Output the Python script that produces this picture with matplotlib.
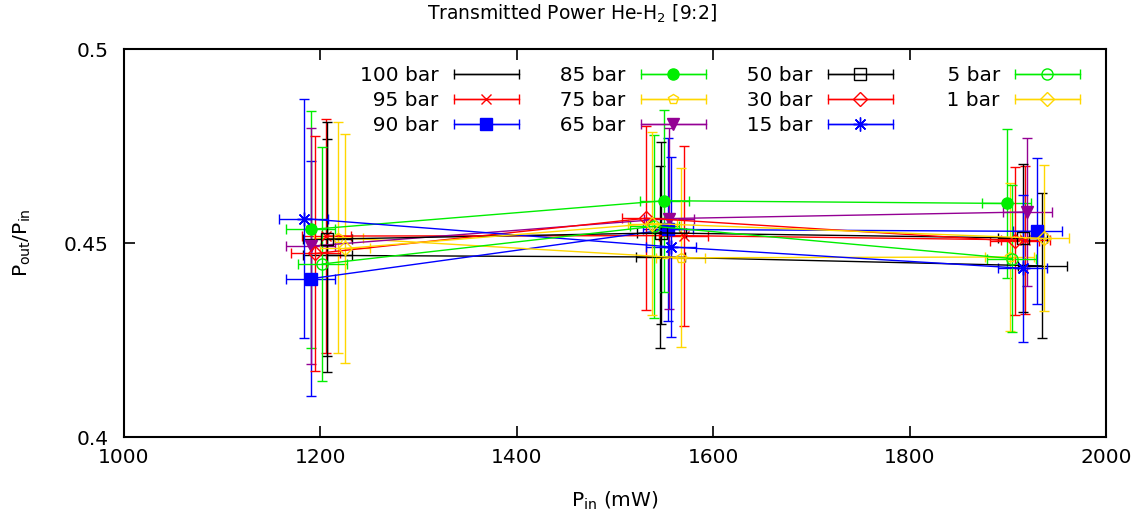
import numpy as np
import matplotlib
matplotlib.use('Agg')
import matplotlib.pyplot as plt
from matplotlib.legend_handler import HandlerErrorbar

FONT_SIZE = 14.5

# pressures, one series each
labels = ['100 bar', '95 bar', '90 bar', '85 bar', '75 bar', '65 bar',
          '50 bar', '30 bar', '15 bar', '5 bar', '1 bar']
colors = ['black', '#ff0000', '#0000ff', '#00ee00', '#ffd700', '#940094',
          'black', '#ff0000', '#0000ff', '#00ee00', '#ffd700']
markers = ['', 'x', 's', 'o', 'p', 'v', 's', 'D', (8, 2, 0), 'o', 'D']
filled = [True, True, True, True, False, True, False, False, True, False, False]

# input power (mW), three settings per pressure
p_in = [
    [1207, 1546, 1935],
    [1206, 1570, 1918],
    [1190, 1554, 1930],
    [1190, 1550, 1899],
    [1218, 1567, 1902],
    [1190, 1555, 1920],
    [1207, 1547, 1915],
    [1195, 1532, 1907],
    [1183, 1557, 1915],
    [1202, 1540, 1904],
    [1225, 1538, 1937],
]
pin_err = 25

# transmitted ratio P_out/P_in
ratio = [
    [0.4468, 0.4464, 0.4441],
    [0.4518, 0.4519, 0.4508],
    [0.4408, 0.4535, 0.4530],
    [0.4535, 0.4609, 0.4602],
    [0.4514, 0.4462, 0.4464],
    [0.4492, 0.4563, 0.4580],
    [0.4510, 0.4526, 0.4513],
    [0.4473, 0.4564, 0.4505],
    [0.4563, 0.4490, 0.4435],
    [0.4446, 0.4543, 0.4460],
    [0.4486, 0.4550, 0.4512],
]
ratio_err = [
    [0.0300, 0.0235, 0.0187],
    [0.0302, 0.0232, 0.0190],
    [0.0303, 0.0235, 0.0188],
    [0.0305, 0.0235, 0.0192],
    [0.0298, 0.0231, 0.0191],
    [0.0305, 0.0234, 0.0190],
    [0.0301, 0.0235, 0.0190],
    [0.0303, 0.0237, 0.0190],
    [0.0308, 0.0232, 0.0189],
    [0.0302, 0.0236, 0.0190],
    [0.0296, 0.0235, 0.0188],
]

plt.rcParams['font.family'] = ['DejaVu Sans']
fig = plt.figure(figsize=(11.43, 5.21), dpi=100)
ax = fig.add_axes([0.1085, 0.1612, 0.8591, 0.7447])

handles = []
for i, lab in enumerate(labels):
    c = colors[i]
    fc = c if filled[i] else 'none'
    ms = 8 if markers[i] in ('s', 'o', 'v') else 7
    if markers[i] == (8, 2, 0):
        ms = 10
    ax.errorbar(p_in[i], ratio[i], xerr=pin_err, yerr=ratio_err[i],
                color=c, ecolor=c, lw=1, elinewidth=1, capsize=3.5, capthick=1,
                marker=markers[i], ms=ms, mfc=fc, mec=c, mew=1)
    # legend proxy, horizontal bar only (like the gnuplot key)
    # figure spaces keep every key column the same width
    pad = '\u2007' * (7 - len(lab))
    h = ax.errorbar([np.nan], [np.nan], xerr=[1], color=c, ecolor=c, lw=1,
                    elinewidth=1, capsize=3.5, capthick=1, marker=markers[i],
                    ms=ms, mfc=fc, mec=c, mew=1, label=pad + lab)
    handles.append(h)

ax.set_xlim(1000, 2000)
ax.set_ylim(0.4, 0.5)
ax.set_xticks([1000, 1200, 1400, 1600, 1800, 2000])
ax.set_yticks([0.4, 0.45, 0.5])
ax.set_yticklabels(['0.4', '0.45', '0.5'])
ax.tick_params(direction='in', length=8, width=1.2, top=True, right=True,
               labelsize=FONT_SIZE)
ax.tick_params(axis='y', pad=11)
ax.tick_params(axis='x', pad=8)
for s in ax.spines.values():
    s.set_linewidth(1.5)

ax.set_xlabel(r'P$_{\mathrm{in}}$ (mW)', fontsize=FONT_SIZE, labelpad=16)
ax.set_ylabel(r'P$_{\mathrm{out}}$/P$_{\mathrm{in}}$', fontsize=FONT_SIZE, labelpad=22)
fig.text(0.5, 0.973, r'Transmitted Power He-H$_2$ [9:2]', ha='center', va='center',
         fontsize=13.5)

hl = 3.23
ax.legend(handles=handles, ncol=4, loc='upper right', bbox_to_anchor=(0.9735, 0.956),
          frameon=False, markerfirst=False, fontsize=FONT_SIZE, handlelength=hl,
          handletextpad=0.75, columnspacing=1.42, labelspacing=0.3, borderpad=0,
          borderaxespad=0, numpoints=1,
          handler_map={type(handles[0]): HandlerErrorbar(xerr_size=hl / 2)})

fig.savefig('out.png', dpi=100)
